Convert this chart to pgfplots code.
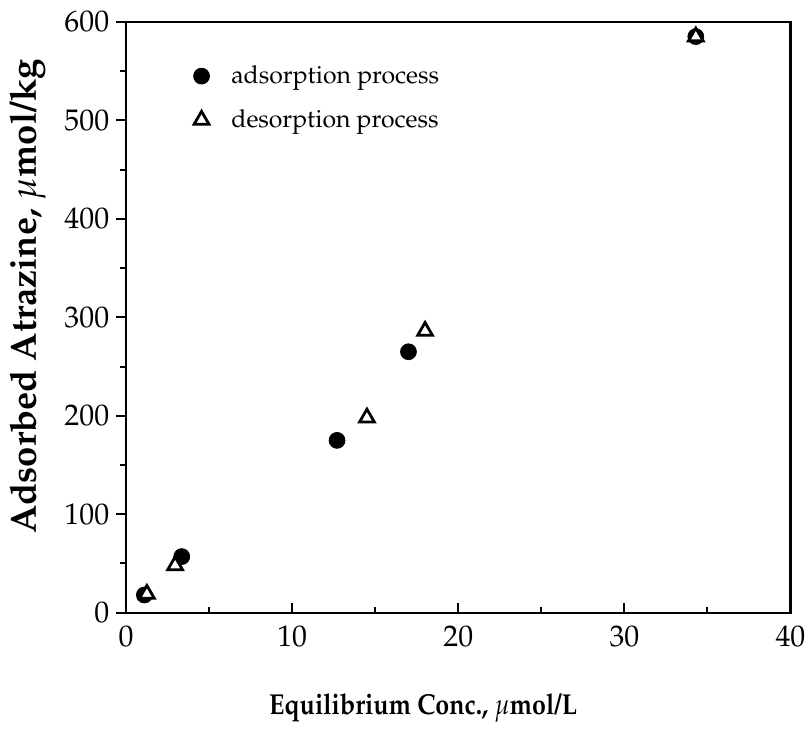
\documentclass[border=0pt]{standalone}
\usepackage[T1]{fontenc}
\usepackage{mathpazo}
\usepackage{graphicx}
\usepackage{pgfplots}
\pgfplotsset{compat=1.18}

\begin{document}
\begin{tikzpicture}
\begin{axis}[
  scale only axis,
  width=334.5pt, height=297.5pt,
  xmin=0, xmax=40, ymin=0, ymax=600,
  xtick={0,10,20,30,40},
  ytick={0,100,200,300,400,500,600},
  minor xtick={5,15,25,35},
  minor ytick={50,150,250,350,450,550},
  xtick pos=bottom, ytick pos=left,
  xtick align=inside, ytick align=outside,
  major tick length=5pt, minor tick length=3pt,
  axis line style={line width=1.1pt},
  every tick/.style={black, line width=1pt},
  tick label style={font=\fontsize{15}{17}\selectfont},
  xticklabel style={yshift=-3pt},
  xlabel={\scalebox{0.87}[1]{\textbf{Equilibrium Conc., $\mu$mol/L}}},
  ylabel={\textbf{Adsorbed Atrazine, $\mu$mol/kg}},
  xlabel style={at={(axis description cs:0.447,-0.162)}, anchor=center,
    font=\fontsize{14.5}{16}\selectfont},
  ylabel style={at={(axis description cs:-0.148,0.535)}, anchor=center,
    font=\fontsize{18.3}{20}\selectfont},
  legend style={at={(axis description cs:0.092,0.94)}, anchor=north west,
    draw=none, fill=none, font=\fontsize{12.5}{14}\selectfont,
    row sep=7.5pt, column sep=9pt},
  legend cell align=left,
]
\addplot[only marks, mark=*, mark size=4pt, black] coordinates {
  (1.1,18) (3.35,57) (12.7,175) (17.0,265) (34.3,585)
};
\addlegendentry{adsorption process}
\addplot[only marks, mark=triangle*, mark size=4.3pt, black,
  mark options={fill=white, line width=1.4pt}] coordinates {
  (1.25,19) (2.95,48) (14.5,198) (18.0,286) (34.3,585)
};
\addlegendentry{desorption process}
\end{axis}
\path ([shift={(-63.5pt,-57pt)}]current axis.south west)
  rectangle ([shift={(8pt,11pt)}]current axis.north east);
\end{tikzpicture}
\end{document}
